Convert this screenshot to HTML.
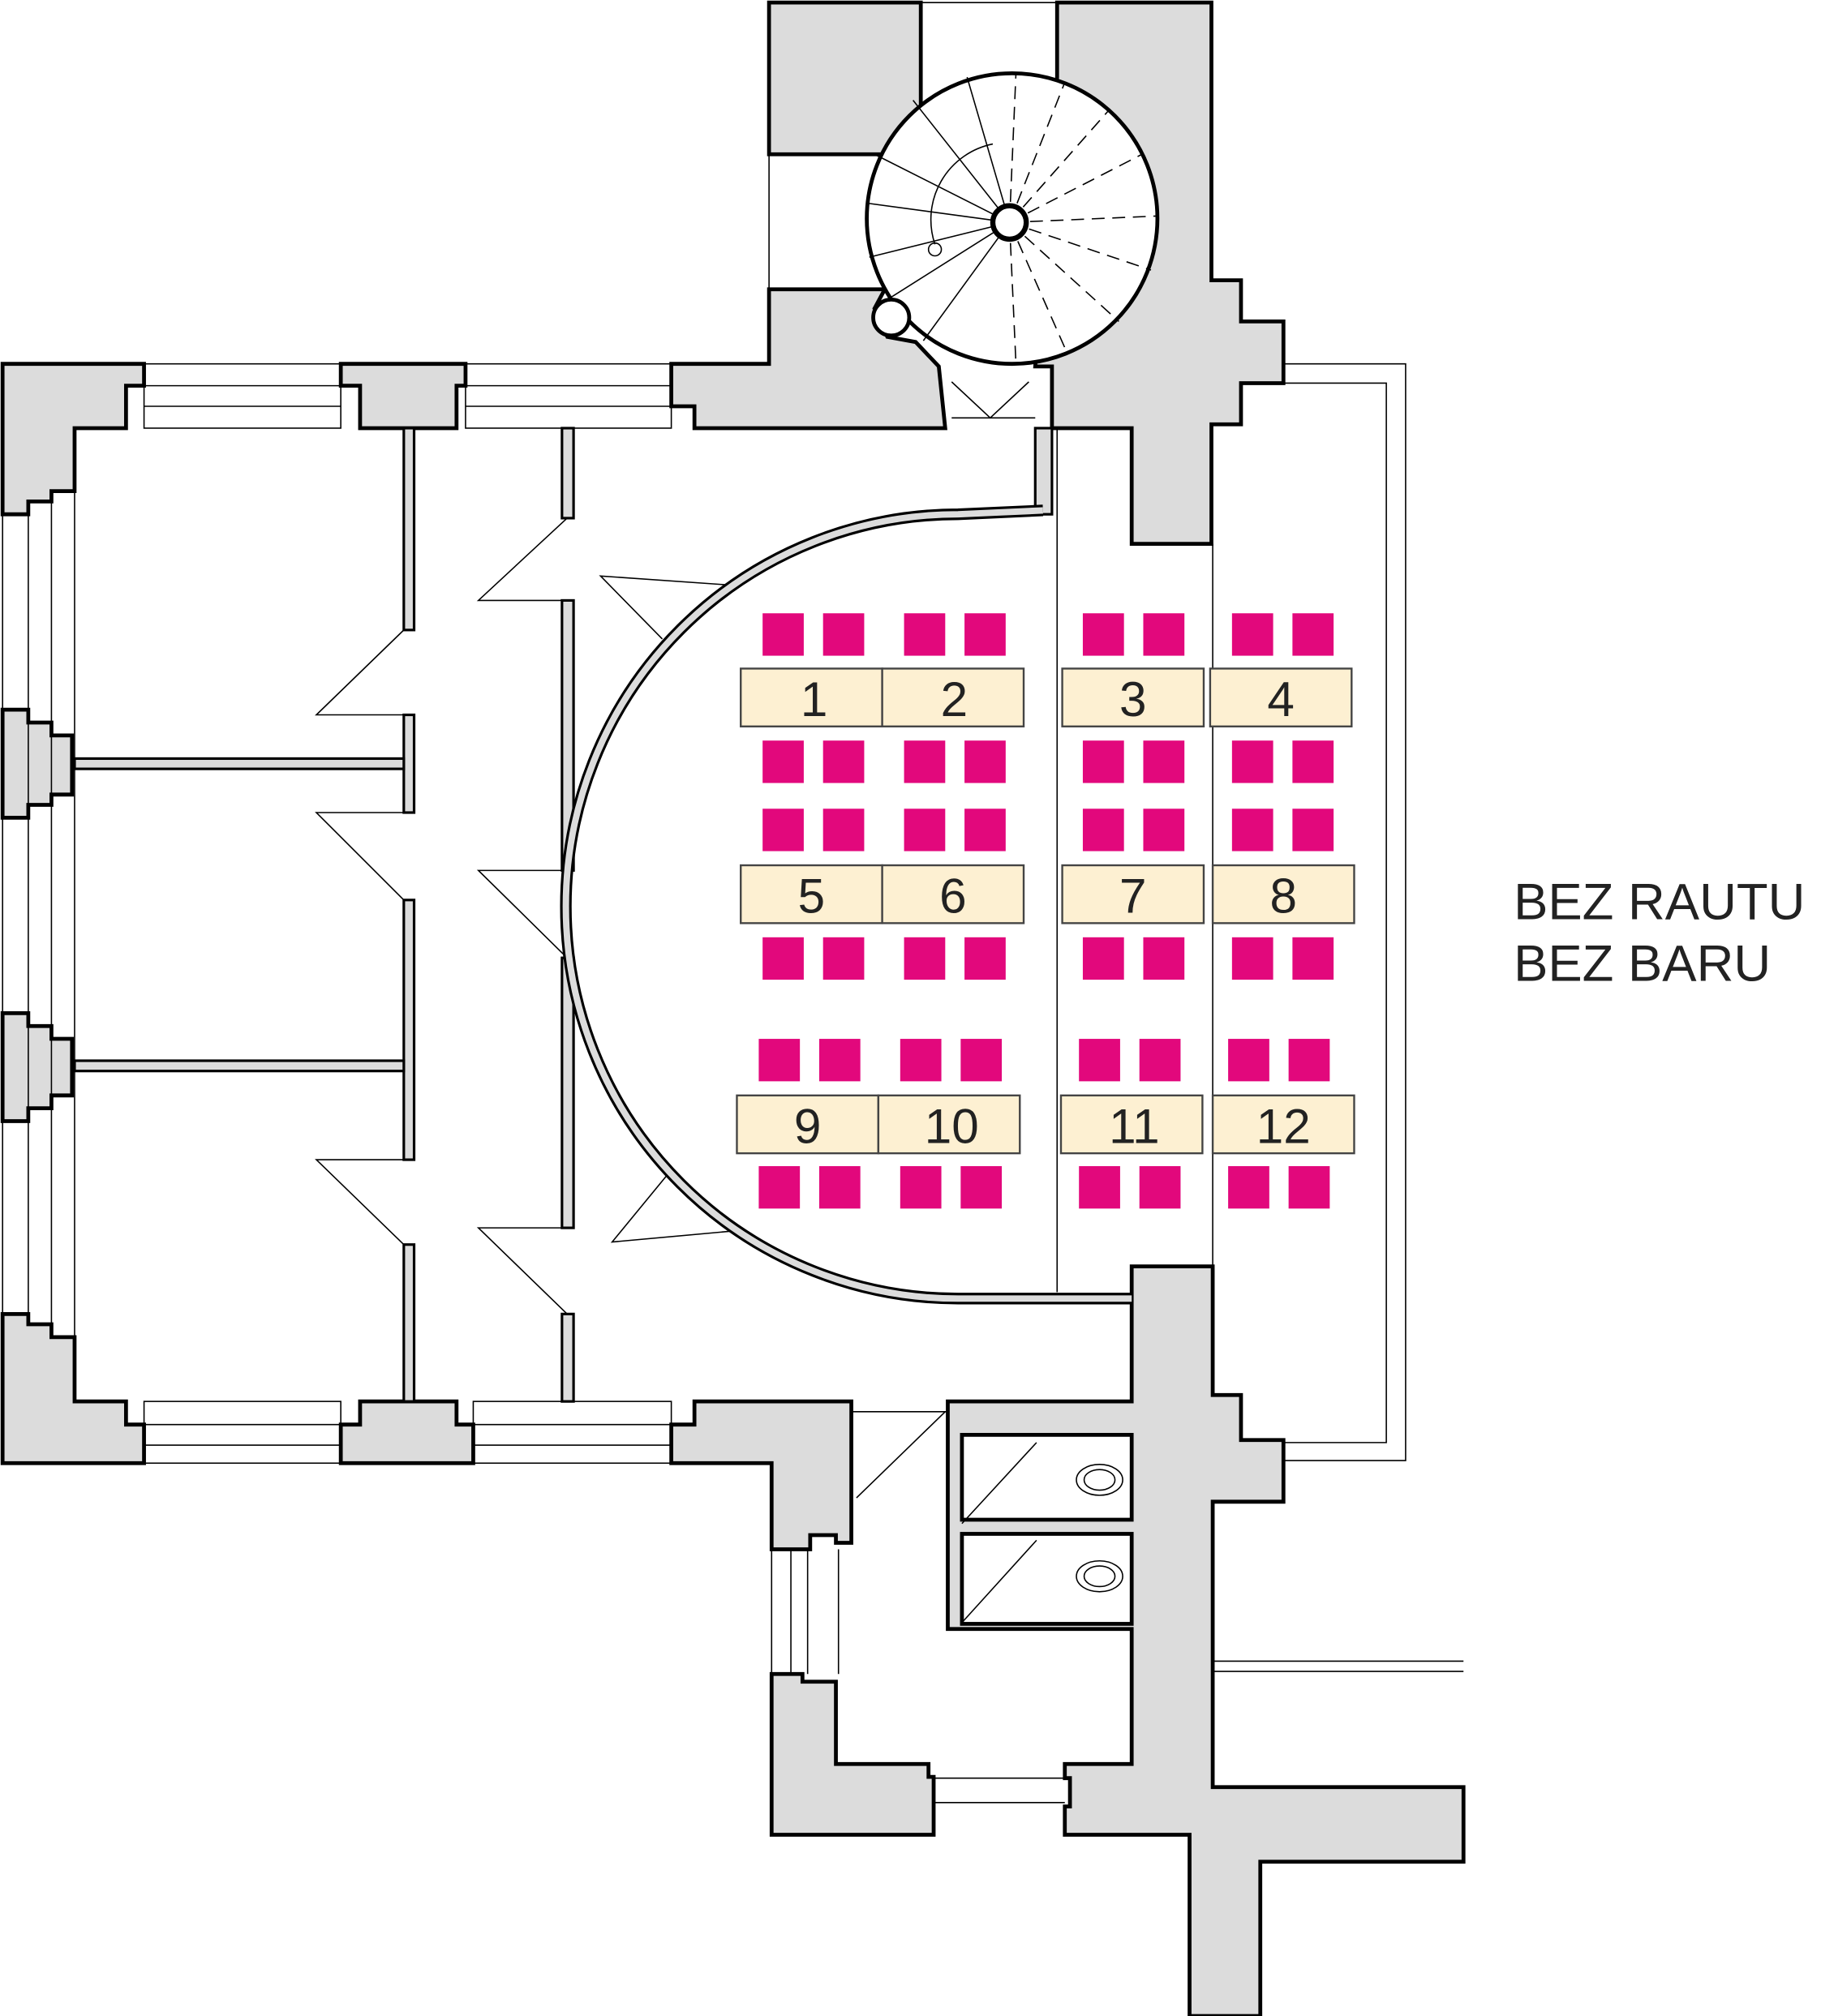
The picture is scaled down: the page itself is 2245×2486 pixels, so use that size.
<!DOCTYPE html>
<html><head><meta charset="utf-8"><style>html,body{margin:0;padding:0;background:#fff}svg{display:block}</style></head>
<body>
<svg width="2245" height="2486" viewBox="0 0 1416 1568" xmlns="http://www.w3.org/2000/svg">
<defs>
<g id="r"><rect x="593" y="0" width="32" height="33"/><rect x="640" y="0" width="32" height="33"/><rect x="703" y="0" width="32" height="33"/><rect x="750" y="0" width="32" height="33"/><rect x="842" y="0" width="32" height="33"/><rect x="889" y="0" width="32" height="33"/><rect x="958" y="0" width="32" height="33"/><rect x="1005" y="0" width="32" height="33"/></g>
</defs>
<g fill="#dcdcdc" stroke="#000" stroke-width="3" stroke-linejoin="miter">
<polygon points="2,283 112,283 112,300 98,300 98,333 58,333 58,382 40,382 40,390 22,390 22,400 2,400"/>
<polygon points="265,283 362,283 362,300 355,300 355,333 280,333 280,300 265,300"/>
<polygon points="522,283 598,283 598,225 688,225 680,240 690,262 712,266 730,285 735,333 540,333 540,316 522,316"/>
<polygon points="598,2 716,2 716,120 598,120"/>
<polygon points="822,2 942,2 942,218 965,218 965,250 998,250 998,298 965,298 965,330 942,330 942,423 880,423 880,333 818,333 818,285 805,285 822,60"/>
<polygon points="2,552 22,552 22,562 40,562 40,572 56,572 56,618 40,618 40,626 22,626 22,636 2,636"/>
<polygon points="2,788 22,788 22,798 40,798 40,808 56,808 56,852 40,852 40,862 22,862 22,872 2,872"/>
<polygon points="2,1022 22,1022 22,1030 40,1030 40,1040 58,1040 58,1090 98,1090 98,1108 112,1108 112,1138 2,1138"/>
<polygon points="280,1090 355,1090 355,1108 368,1108 368,1138 265,1138 265,1108 280,1108"/>
<polygon points="540,1090 662,1090 662,1200 650,1200 650,1194 630,1194 630,1205 600,1205 600,1138 522,1138 522,1108 540,1108"/>
<polygon points="600,1302 624,1302 624,1308 650,1308 650,1372 722,1372 722,1382 726,1382 726,1427 600,1427"/>
<polygon points="880,985 943,985 943,1085 965,1085 965,1120 998,1120 998,1168 943,1168 943,1390 1138,1390 1138,1448 980,1448 980,1568 925,1568 925,1427 828,1427 828,1405 832,1405 832,1383 828,1383 828,1372 880,1372 880,1267 737,1267 737,1090 880,1090"/>
</g>
<g fill="#fff" stroke="#000" stroke-width="3">
<rect x="748" y="1116" width="132" height="66"/>
<rect x="748" y="1193" width="132" height="70"/>
</g>
<g fill="none" stroke="#000" stroke-width="1">
<line x1="748" y1="1185" x2="806" y2="1122"/><line x1="748" y1="1262" x2="806" y2="1198"/>
<ellipse cx="855" cy="1151" rx="18" ry="12"/><ellipse cx="855" cy="1151" rx="12" ry="8"/>
<ellipse cx="855" cy="1226" rx="18" ry="12"/><ellipse cx="855" cy="1226" rx="12" ry="8"/>
<line x1="662" y1="1098" x2="737" y2="1098"/><line x1="666" y1="1165" x2="735" y2="1098"/>
<line x1="600" y1="1205" x2="600" y2="1302"/><line x1="615" y1="1205" x2="615" y2="1302"/><line x1="628" y1="1205" x2="628" y2="1302"/><line x1="652" y1="1205" x2="652" y2="1302"/>
<line x1="726" y1="1402" x2="828" y2="1402"/><line x1="726" y1="1383" x2="828" y2="1383"/>
<polyline points="998,283 1093,283 1093,1136 998,1136"/><polyline points="998,298 1078,298 1078,1122 998,1122"/>
<line x1="943" y1="1292" x2="1138" y2="1292"/><line x1="943" y1="1300" x2="1138" y2="1300"/>
<line x1="822" y1="333" x2="822" y2="1005"/><line x1="943" y1="423" x2="943" y2="985"/>
<rect x="112" y="283" width="153" height="50"/><line x1="112" y1="300" x2="265" y2="300"/><line x1="112" y1="316" x2="265" y2="316"/>
<rect x="362" y="283" width="160" height="50"/><line x1="362" y1="300" x2="522" y2="300"/><line x1="362" y1="316" x2="522" y2="316"/>
<rect x="112" y="1090" width="153" height="48"/><line x1="112" y1="1108" x2="265" y2="1108"/><line x1="112" y1="1124" x2="265" y2="1124"/>
<rect x="368" y="1090" width="154" height="48"/><line x1="368" y1="1108" x2="522" y2="1108"/><line x1="368" y1="1124" x2="522" y2="1124"/>
<line x1="2" y1="400" x2="2" y2="1022"/><line x1="22" y1="400" x2="22" y2="1022"/><line x1="40" y1="390" x2="40" y2="1030"/><line x1="58" y1="333" x2="58" y2="1040"/>
<line x1="716" y1="2" x2="822" y2="2"/><line x1="598" y1="120" x2="598" y2="225"/><line x1="716" y1="120" x2="716" y2="225"/>
<polyline points="314,490 246,556 314,556"/><polyline points="314,632 246,632 314,700"/><polyline points="314,902 246,902 314,968"/>
<polyline points="441,403 372,467 441,467"/><polyline points="441,677 372,677 441,745"/><polyline points="441,955 372,955 441,1022"/>
<polyline points="567,455 467,448 515,497"/><polyline points="575,957 476,966 522,910"/>
<polyline points="740,297 770,325 800,297"/><line x1="740" y1="325" x2="805" y2="325"/>
</g>
<circle cx="787" cy="170" r="113" fill="#fff" stroke="#000" stroke-width="3"/>
<circle cx="693" cy="247" r="14" fill="#fff" stroke="#000" stroke-width="3"/>
<g stroke="#000" stroke-width="1" fill="none">
<line x1="785" y1="173" x2="674" y2="158"/><line x1="785" y1="173" x2="680" y2="120"/><line x1="785" y1="173" x2="710" y2="78"/><line x1="785" y1="173" x2="752" y2="60"/>
<line x1="785" y1="173" x2="676" y2="200"/><line x1="785" y1="173" x2="690" y2="233"/><line x1="785" y1="173" x2="718" y2="265"/>
<g stroke-dasharray="10,6"><line x1="785" y1="173" x2="790" y2="57"/><line x1="785" y1="173" x2="828" y2="64"/><line x1="785" y1="173" x2="862" y2="86"/><line x1="785" y1="173" x2="888" y2="120"/><line x1="785" y1="173" x2="900" y2="168"/><line x1="785" y1="173" x2="895" y2="210"/><line x1="785" y1="173" x2="870" y2="250"/><line x1="785" y1="173" x2="830" y2="275"/><line x1="785" y1="173" x2="790" y2="283"/></g>
<path d="M727,190 A60,60 0 0 1 772,112"/><circle cx="727" cy="194" r="5"/>
</g>
<circle cx="785" cy="173" r="13" fill="#fff" stroke="#000" stroke-width="4"/>
<g fill="#dcdcdc" stroke="#000" stroke-width="2">
<rect x="314" y="333" width="8" height="157"/><rect x="314" y="556" width="8" height="76"/><rect x="314" y="700" width="8" height="202"/><rect x="314" y="968" width="8" height="122"/>
<rect x="58" y="590" width="256" height="8"/><rect x="58" y="825" width="256" height="8"/>
<rect x="437" y="333" width="9" height="70"/><rect x="437" y="467" width="9" height="210"/><rect x="437" y="745" width="9" height="210"/><rect x="437" y="1022" width="9" height="68"/>
<rect x="805" y="333" width="13" height="67"/>
</g>
<path d="M811,397 L745,400 A303,303 0 0 0 745,1010 L880,1010" fill="none" stroke="#000" stroke-width="9"/>
<path d="M811,397 L745,400 A303,303 0 0 0 745,1010 L880,1010" fill="none" stroke="#dcdcdc" stroke-width="5"/>
<g fill="#e2087c">
<use href="#r" y="477"/><use href="#r" y="576"/><use href="#r" y="629"/><use href="#r" y="729"/><use href="#r" x="-3" y="808"/><use href="#r" x="-3" y="907"/>
</g>
<g fill="#fdf0d2" stroke="#444" stroke-width="1.5">
<rect x="576" y="520" width="110" height="45"/><rect x="686" y="520" width="110" height="45"/><rect x="826" y="520" width="110" height="45"/><rect x="941" y="520" width="110" height="45"/>
<rect x="576" y="673" width="110" height="45"/><rect x="686" y="673" width="110" height="45"/><rect x="826" y="673" width="110" height="45"/><rect x="943" y="673" width="110" height="45"/>
<rect x="573" y="852" width="110" height="45"/><rect x="683" y="852" width="110" height="45"/><rect x="825" y="852" width="110" height="45"/><rect x="943" y="852" width="110" height="45"/>
</g>
<g font-family="Liberation Sans, sans-serif" font-size="38" fill="#222" text-anchor="middle">
<text x="633" y="557">1</text><text x="742" y="557">2</text><text x="881" y="557">3</text><text x="996" y="557">4</text>
<text x="631" y="710">5</text><text x="741" y="710">6</text><text x="881" y="710">7</text><text x="998" y="710">8</text>
<text x="628" y="889">9</text><text x="740" y="889">10</text><text x="882" y="889">11</text><text x="998" y="889">12</text>
</g>
<g font-family="Liberation Sans, sans-serif" font-size="40" fill="#222">
<text x="1177" y="715">BEZ RAUTU</text><text x="1177" y="763">BEZ BARU</text>
</g>
</svg>
</body></html>
